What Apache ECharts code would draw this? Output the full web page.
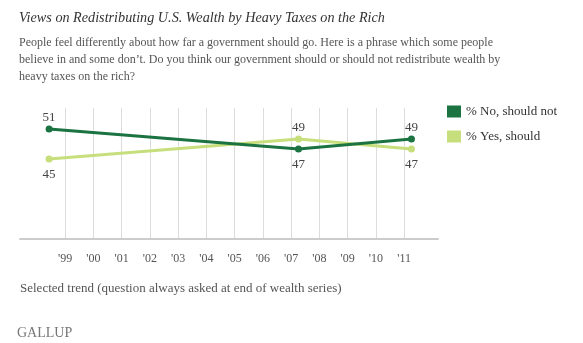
<!DOCTYPE html>
<html>
<head>
<meta charset="utf-8">
<script src="https://cdn.jsdelivr.net/npm/echarts@6/dist/echarts.min.js"></script>
<style>
html,body{margin:0;padding:0;background:#fff;}
#chart{width:583px;height:343px;}
</style>
</head>
<body>
<div id="chart"></div>
<script>
// Data
var years = [1998.43, 2007.26, 2011.26];
var noShouldNot = [51, 47, 49];
var yesShould = [45, 49, 47];
var seriesNames = ['% No, should not', '% Yes, should'];
var tickYears = [1999, 2000, 2001, 2002, 2003, 2004, 2005, 2006, 2007, 2008, 2009, 2010, 2011];
var titleText = 'Views on Redistributing U.S. Wealth by Heavy Taxes on the Rich';
var subtitleLines = [
  'People feel differently about how far a government should go. Here is a phrase which some people',
  "believe in and some don\u2019t. Do you think our government should or should not redistribute wealth by",
  'heavy taxes on the rich?'
];
var footnote = 'Selected trend (question always asked at end of wealth series)';
var brand = 'GALLUP';

var serif = '"Liberation Serif", "DejaVu Serif", serif';
var darkGreen = '#1a7340';
var lightGreen = '#c6df7c';

function buildData(vals, other) {
  return vals.map(function (v, i) {
    var above = v >= other[i];
    return {
      value: [years[i], v],
      label: { position: above ? 'top' : 'bottom', distance: above ? 1 : 6 }
    };
  });
}

var chart = echarts.init(document.getElementById('chart'));
chart.setOption({
  animation: false,
  backgroundColor: '#fff',
  title: [{
    text: titleText,
    subtext: subtitleLines.join('\n'),
    left: 19, top: 11, padding: 0,
    itemGap: 9,
    textStyle: { fontFamily: serif, fontStyle: 'italic', fontWeight: 'normal', fontSize: 14.2, color: '#333' },
    subtextStyle: { fontFamily: serif, fontSize: 12, color: '#555', lineHeight: 17 }
  }, {
    text: footnote,
    left: 20, top: 282, padding: 0,
    textStyle: { fontFamily: serif, fontWeight: 'normal', fontSize: 13, color: '#555' }
  }, {
    text: brand,
    left: 17, top: 326, padding: 0,
    textStyle: { fontFamily: serif, fontWeight: 'normal', fontSize: 14, color: '#777' }
  }],
  legend: {
    orient: 'vertical',
    left: 447, top: 105, padding: 0,
    icon: 'rect',
    itemWidth: 14, itemHeight: 12,
    itemGap: 12,
    data: seriesNames,
    textStyle: { fontFamily: serif, fontSize: 13, color: '#333' }
  },
  grid: { left: 20, right: 145, top: 108, bottom: 104 },
  xAxis: {
    type: 'value',
    min: 1997.4, max: 2012.2,
    axisLine: { show: true, lineStyle: { color: '#cccccc', width: 2 } },
    axisTick: { show: false, customValues: tickYears },
    axisLabel: {
      customValues: tickYears,
      margin: 14,
      fontFamily: serif, fontSize: 12, color: '#555',
      formatter: function (v) { return '\'' + String(Math.round(v)).slice(2); }
    },
    splitLine: { show: true, lineStyle: { color: '#dcdcdc', width: 1 } }
  },
  yAxis: {
    type: 'value',
    min: 29, max: 55.2,
    show: false,
    splitLine: { show: false }
  },
  series: [{
    name: seriesNames[0],
    type: 'line',
    data: buildData(noShouldNot, yesShould),
    color: darkGreen,
    lineStyle: { width: 3, color: darkGreen },
    symbol: 'circle', symbolSize: 7,
    itemStyle: { color: darkGreen },
    label: { show: true, fontFamily: serif, fontSize: 13, color: '#444' },
    z: 3
  }, {
    name: seriesNames[1],
    type: 'line',
    data: buildData(yesShould, noShouldNot),
    color: lightGreen,
    lineStyle: { width: 3, color: lightGreen },
    symbol: 'circle', symbolSize: 7,
    itemStyle: { color: lightGreen },
    label: { show: true, fontFamily: serif, fontSize: 13, color: '#444' },
    z: 2
  }]
});
</script>
</body>
</html>
